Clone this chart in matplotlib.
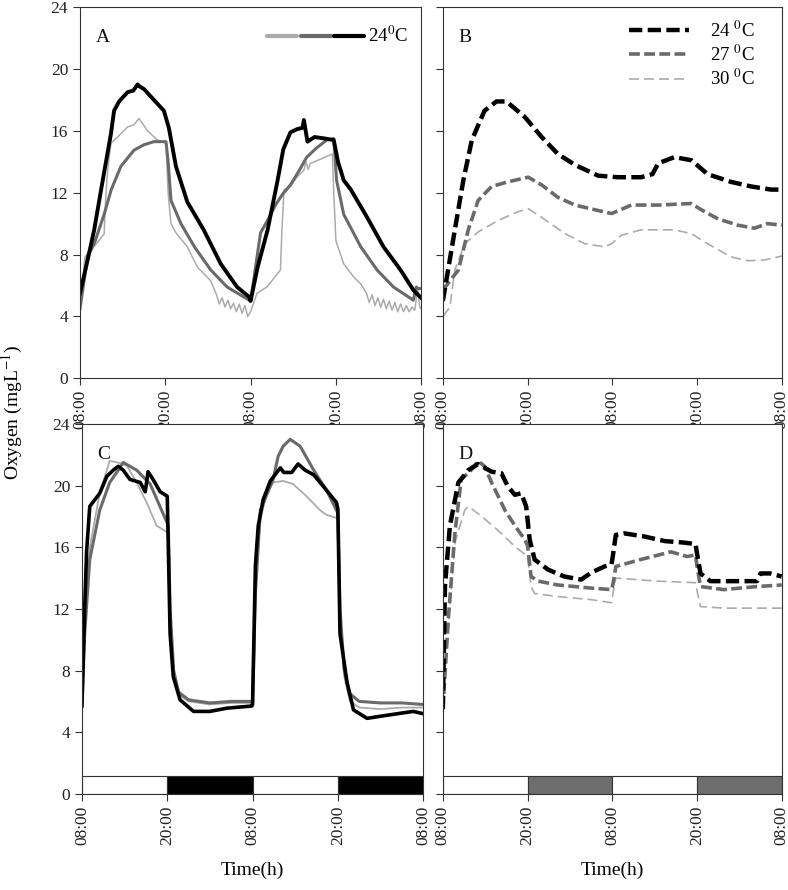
import numpy as np
import matplotlib.pyplot as plt
from matplotlib.legend_handler import HandlerTuple

plt.rcParams['font.family'] = ['Liberation Serif', 'DejaVu Serif']
plt.rcParams['mathtext.fontset'] = 'stix'

# tick labels / period bars
czas_ticks = [0, 12, 24, 36, 48]
czas_labels = ['08:00', '20:00', '08:00', '20:00', '08:00']
pasek_start = [0, 12, 24, 36]
pasek_noc = [False, True, False, True]

# ---- panel A ----
a24_t = [0, 1, 2, 3.2, 4.35, 4.8, 5.5, 6.7, 7.5, 8.1, 8.3, 9, 10.4, 11.8, 12.5, 13.5, 15.1, 17.4,
         19.8, 22.1, 23.8, 24, 25, 26.4, 27.8, 28.6, 29.6, 30.5, 31.3, 31.5, 32, 33, 34.5, 35.7,
         36.3, 37.1, 38.1, 40.4, 42.7, 45.1, 46.9, 48]
a24 = [5.5, 7.5, 9.6, 12.8, 15.8, 17.3, 17.9, 18.5, 18.6, 19.0, 18.9, 18.7, 18.0, 17.3, 16.2, 13.7,
       11.4, 9.6, 7.4, 5.9, 5.26, 5.0, 7.2, 9.6, 12.8, 14.8, 15.9, 16.1, 16.2, 16.7, 15.3, 15.6,
       15.5, 15.4, 14.0, 12.8, 12.2, 10.4, 8.5, 7.0, 5.7, 5.2]

a27_t = [0, 1.07, 2, 3.4, 4.4, 5.75, 7.6, 9, 10.4, 12.1, 12.4, 12.8, 14.2, 16.1, 18.4, 20.7, 23.8,
         24, 24.8, 25.4, 26.5, 27.5, 28.5, 29.6, 30.8, 31.9, 33.3, 34.7, 35.7, 36.1, 37.1, 39.5,
         41.8, 44.1, 46.9, 47.3, 47.6, 48]
a27 = [4.5, 7.85, 8.7, 10.6, 12.2, 13.7, 14.75, 15.1, 15.3, 15.3, 14.0, 11.5, 10.0, 8.5, 7.0, 5.9,
       5.05, 5.0, 7.5, 9.4, 10.3, 11.2, 11.9, 12.5, 13.4, 14.3, 14.9, 15.4, 15.5, 12.8, 10.6, 8.5,
       7.0, 5.9, 5.05, 5.9, 5.8, 5.8]

a30_t = [0, 0.7, 1.5, 2.5, 3.4, 3.6, 3.9, 4.35, 5.3, 6.7, 7.6, 8.3, 9.5, 10.9, 12.1, 12.4, 12.8,
         13.5, 15.1, 16.5, 18.4, 19.2, 19.6, 20.0, 20.4, 20.8, 21.2, 21.6, 22.0, 22.4, 22.8, 23.2,
         23.6, 24.0, 24.9, 26.3, 28.2, 28.4, 28.7, 29.6, 30.5, 31.5, 31.8, 32.1, 32.4, 33.5, 35.5,
         35.7, 36.0, 37.1, 38.5, 39.5, 40.3, 40.7, 41.1, 41.5, 41.9, 42.3, 42.7, 43.1, 43.5, 43.9,
         44.3, 44.7, 45.1, 45.5, 45.9, 46.3, 46.7, 47.1, 47.5, 47.8, 48]
a30 = [4.2, 7.85, 8.3, 8.8, 9.35, 11.5, 13.5, 15.2, 15.6, 16.25, 16.4, 16.8, 16.0, 15.4, 15.2, 12.0,
       10.0, 9.4, 8.5, 7.2, 6.3, 5.4, 4.8, 5.2, 4.6, 5.05, 4.5, 4.85, 4.3, 4.8, 4.2, 4.7, 4.0,
       4.3, 5.5, 5.9, 7.0, 9.5, 12.2, 12.4, 13.0, 13.45, 14.0, 13.5, 13.9, 14.1, 14.5, 12.0, 8.9,
       7.4, 6.55, 6.1, 5.5, 4.9, 5.4, 4.7, 5.2, 4.6, 5.1, 4.5, 5.0, 4.4, 4.9, 4.3, 4.8, 4.3, 4.7,
       4.3, 4.6, 4.4, 5.8, 4.6, 4.5]

# ---- panel B ----
b24_t = [0, 1.7, 2.9, 4.1, 5.9, 7.6, 9.0, 11.6, 14, 16.3, 18.7, 22, 24.8, 28.1, 29.7, 30.5, 32.8,
         35.2, 37.5, 40.8, 43.7, 46.5, 48]
b24 = [5.0, 9.6, 12.8, 15.4, 17.3, 17.9, 17.9, 16.9, 15.6, 14.5, 13.8, 13.1, 13.0, 13.0, 13.2,
       13.9, 14.3, 14.1, 13.2, 12.7, 12.4, 12.2, 12.2]

b27_t = [0, 2.2, 3.6, 5.0, 6.9, 9.2, 12.1, 14, 16.3, 18.7, 21.5, 23.9, 26.7, 30.5, 35.2, 36.6, 39,
         41.8, 44.1, 46, 48]
b27 = [5.7, 7.0, 9.6, 11.5, 12.4, 12.7, 13.0, 12.5, 11.7, 11.2, 10.9, 10.65, 11.2, 11.2, 11.3,
       10.9, 10.3, 9.9, 9.7, 10.0, 9.9]

b30_t = [0, 1.0, 1.7, 3.1, 5.0, 7.8, 10.6, 12.1, 14, 17.3, 20.1, 22.9, 23.9, 25.3, 28.1, 32.8,
         35.2, 37.5, 40.8, 43.2, 45.6, 48]
b30 = [4.0, 4.6, 7.0, 8.7, 9.46, 10.2, 10.76, 10.97, 10.4, 9.35, 8.7, 8.5, 8.7, 9.25, 9.6, 9.6,
       9.35, 8.7, 7.85, 7.6, 7.65, 7.9]

# ---- panel C ----
c24_t = [0, 0.42, 0.66, 1.1, 2.5, 3.5, 4.4, 5.1, 5.8, 6.75, 8.2, 8.9, 9.3, 10.0, 11.0, 11.7, 12.0,
         12.4, 12.85, 13.8, 15.7, 18, 20.4, 23.9, 24.0, 24.4, 24.8, 25.5, 26.5, 27.9, 28.4, 29.5,
         30.4, 31.4, 32.6, 34.4, 35.8, 36.0, 36.3, 37.3, 38.2, 40.1, 42.9, 46.6, 48]
c24 = [5.7, 12.6, 15.8, 18.65, 19.5, 20.6, 21.0, 21.25, 21.0, 20.4, 20.2, 19.6, 20.9, 20.4, 19.6,
       19.4, 19.3, 10.4, 7.6, 6.1, 5.35, 5.35, 5.56, 5.7, 5.8, 14.8, 17.4, 19.1, 20.3, 21.15, 20.85,
       20.85, 21.4, 21.0, 20.7, 19.7, 18.9, 18.5, 10.4, 7.2, 5.45, 4.9, 5.1, 5.35, 5.2]

c27_t = [0, 0.4, 1.1, 2.5, 3.9, 5.1, 5.8, 7.7, 9.6, 12.15, 12.4, 12.9, 13.6, 15, 18, 21, 23.9, 24.0,
         24.4, 25.1, 26.9, 27.6, 28.3, 29.3, 30.7, 32.6, 34.4, 35.8, 36.0, 36.3, 36.9, 37.7, 39,
         42, 45, 48]
c27 = [5.8, 10.5, 15.2, 18.4, 20.2, 21.0, 21.5, 21.0, 20.1, 17.4, 12.0, 8.0, 6.6, 6.1, 5.9, 6.0,
       6.0, 5.9, 13.0, 18.4, 20.4, 21.9, 22.55, 23.0, 22.55, 21.0, 19.7, 18.4, 18.2, 12.0, 8.0,
       6.5, 6.0, 5.9, 5.9, 5.8]

c30_t = [0, 0.5, 1.1, 2.5, 3.9, 5.0, 6.3, 7.7, 9.1, 10.5, 11.9, 12.1, 12.4, 12.9, 13.7, 15, 18, 21,
         23.9, 24.0, 24.4, 25.1, 26.0, 26.9, 28.3, 29.7, 31.6, 33.5, 34.4, 35.8, 36.0, 36.3, 36.9,
         37.7, 39, 42, 45, 48]
c30 = [5.8, 12.0, 16.0, 19.5, 21.6, 21.5, 21.3, 20.2, 18.9, 17.4, 17.0, 16.9, 11.5, 7.8, 6.4, 6.0,
       5.8, 5.9, 5.9, 5.8, 13.5, 17.8, 19.5, 20.2, 20.3, 20.1, 19.3, 18.4, 18.1, 17.9, 17.7, 11.5,
       7.6, 6.0, 5.6, 5.5, 5.6, 5.6]

# ---- panel D ----
d24_t = [0, 0.3, 1.0, 2.2, 3.6, 5.0, 6.9, 8.3, 9.2, 10.2, 11.1, 11.8, 12.3, 13, 14.9, 17.2, 19.6,
         21, 22.9, 23.9, 24.1, 24.5, 25.7, 28.5, 31.4, 34.2, 35.8, 36.0, 36.5, 37.9, 42.2, 44.5,
         45, 46.4, 48]
d24 = [5.5, 13.5, 17.4, 20.2, 21.0, 21.4, 20.9, 20.8, 19.95, 19.4, 19.5, 18.65, 16.5, 15.2, 14.55,
       14.1, 13.9, 14.35, 14.75, 14.9, 15.5, 16.8, 16.9, 16.7, 16.4, 16.3, 16.2, 15.6, 14.3, 13.8,
       13.8, 13.8, 14.3, 14.3, 14.1]

d27_t = [0, 0.8, 1.7, 2.6, 4.0, 5.0, 5.9, 6.9, 8.8, 10.2, 11.6, 12.0, 12.5, 13.5, 16.3, 21, 23.9,
         24.1, 24.5, 28, 32.3, 34.6, 35.8, 36.0, 36.5, 39.8, 44.5, 48]
d27 = [5.5, 11.5, 16.9, 20.4, 21.0, 21.6, 21.25, 20.2, 18.4, 17.4, 16.5, 16.1, 14.1, 13.8, 13.55,
       13.35, 13.25, 13.6, 14.75, 15.2, 15.7, 15.4, 15.5, 14.8, 13.45, 13.25, 13.45, 13.55]

d30_t = [0, 0.8, 1.7, 3.1, 3.6, 5.5, 7.8, 10.2, 12.0, 12.5, 13.0, 16.3, 21, 23.9, 24.1, 24.5, 30.4,
         35.8, 36.0, 36.5, 39.8, 48]
d30 = [5.5, 11.0, 16.3, 18.4, 18.65, 18.0, 17.1, 16.05, 15.4, 13.45, 13.0, 12.8, 12.6, 12.4, 13.0,
       14.0, 13.8, 13.7, 13.2, 12.15, 12.05, 12.05]

czarny = '#000000'
ciemny = '#6a6a6a'
jasny = '#ababab'

fig = plt.figure(figsize=(7.88, 8.90), dpi=100)
ax_a = fig.add_axes([0.1015, 0.575, 0.433, 0.417])
ax_b = fig.add_axes([0.562, 0.575, 0.430, 0.417])
ax_c = fig.add_axes([0.1040, 0.108, 0.433, 0.4157])
ax_d = fig.add_axes([0.562, 0.108, 0.430, 0.4157])

# A - solid lines
ax_a.plot(a30_t, a30, color=jasny, lw=1.1)
ax_a.plot(a27_t, a27, color=ciemny, lw=2.2)
ax_a.plot(a24_t, a24, color=czarny, lw=2.8)
ha = tuple(plt.Line2D([], [], color=k, lw=3.0, solid_capstyle='round') for k in (jasny, ciemny, czarny))
ax_a.legend([ha], ['24$^{0}$C'], handler_map={tuple: HandlerTuple(ndivide=None, pad=0.2)},
            handlelength=5.2, loc='upper right', frameon=False, fontsize=13.5,
            bbox_to_anchor=(1.0, 0.985), handletextpad=0.2, borderaxespad=0.3)

# B - dashed lines
ax_b.plot(b30_t, b30, color=jasny, lw=1.2, dashes=(6, 3))
ax_b.plot(b27_t, b27, color=ciemny, lw=2.6, dashes=(3, 1.2))
ax_b.plot(b24_t, b24, color=czarny, lw=3.2, dashes=(3, 1.2))
hb = [plt.Line2D([], [], color=czarny, lw=3.2, dashes=(3, 1.2)),
      plt.Line2D([], [], color=ciemny, lw=2.6, dashes=(3, 1.2)),
      plt.Line2D([], [], color=jasny, lw=1.2, dashes=(6, 3))]
ax_b.legend(hb, ['24 $^{0}$C', '27 $^{0}$C', '30 $^{0}$C'], loc='upper right', frameon=False,
            fontsize=13.5, handlelength=3.2, handletextpad=1.1, labelspacing=0.22,
            bbox_to_anchor=(0.97, 1.01))

# C - solid lines
ax_c.plot(c30_t, c30, color=jasny, lw=1.3)
ax_c.plot(c27_t, c27, color=ciemny, lw=2.2)
ax_c.plot(c24_t, c24, color=czarny, lw=2.6)

# D - dashed lines
ax_d.plot(d30_t, d30, color=jasny, lw=1.2, dashes=(6, 3))
ax_d.plot(d27_t, d27, color=ciemny, lw=2.6, dashes=(3, 1.2))
ax_d.plot(d24_t, d24, color=czarny, lw=3.2, dashes=(3, 1.2))

# light/dark bars
for ax, kolor_nocy in [(ax_c, '#000000'), (ax_d, '#6e6e6e')]:
    kolory = [kolor_nocy if n else 'white' for n in pasek_noc]
    ax.bar(pasek_start, [1.15] * len(pasek_start), width=12, align='edge', bottom=0,
           color=kolory, edgecolor='#333333', linewidth=0.8, zorder=1)

for ax, lit in [(ax_a, 'A'), (ax_b, 'B'), (ax_c, 'C'), (ax_d, 'D')]:
    ax.set_xlim(0, 48)
    ax.set_ylim(0, 24)
    ax.set_xticks(czas_ticks)
    ax.set_xticklabels(czas_labels, rotation=90, fontsize=12.5)
    ax.set_yticks(range(0, 25, 4))
    ax.tick_params(direction='out', length=5, width=0.8, color='#333333', labelsize=12.5,
                   labelcolor='#222222')
    for s in ax.spines.values():
        s.set_color('#333333')
        s.set_linewidth(0.8)
    ax.text(0.045, 0.905, lit, transform=ax.transAxes, fontsize=14, color='#111111')
    if ax in (ax_c, ax_d):
        ax.set_xlabel('Time(h)', fontsize=14, labelpad=12)

for ax in (ax_b, ax_d):
    ax.set_yticklabels([])

fig.text(0.016, 0.537, 'Oxygen (mgL$^{-1}$)', rotation=90, va='center', ha='center', fontsize=14)

fig.savefig('out.png', dpi=100)
